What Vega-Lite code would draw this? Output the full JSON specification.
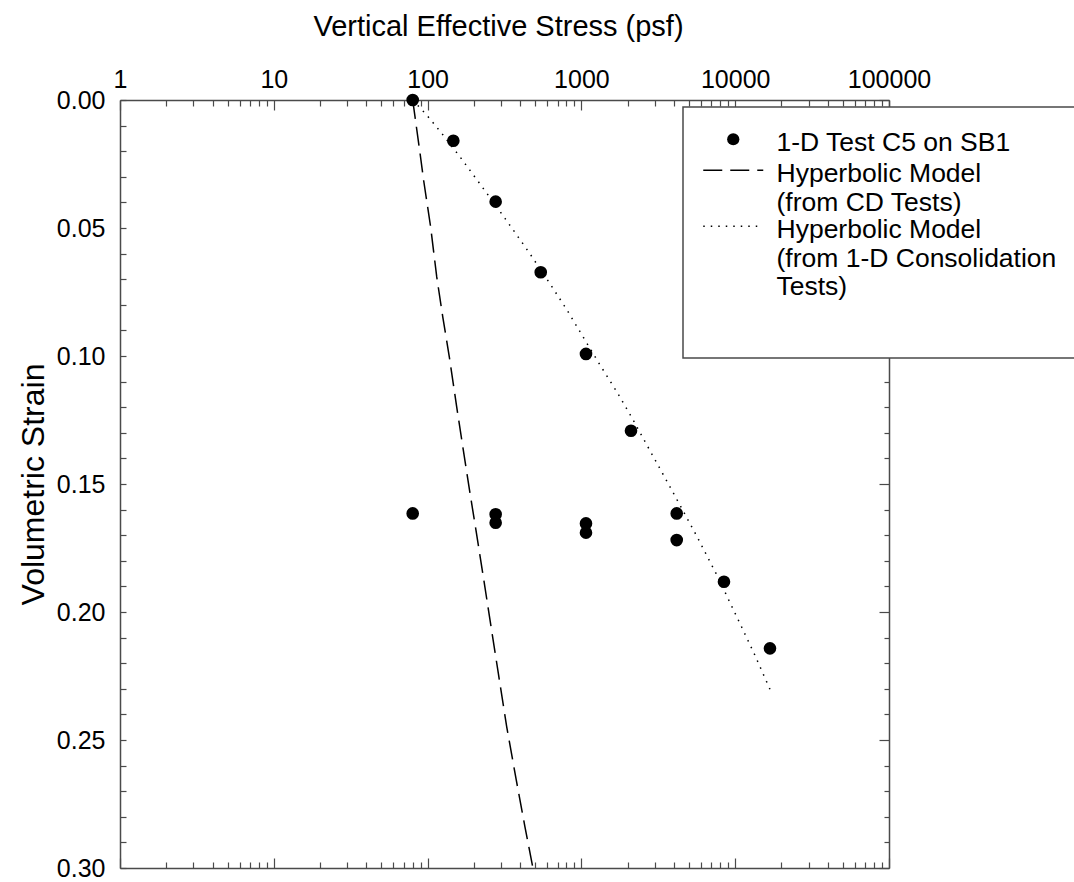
{
  "$schema": "https://vega.github.io/schema/vega-lite/v6.json",
  "width": 769,
  "height": 768,
  "autosize": {"type": "none"},
  "padding": {"left": 120, "top": 100, "right": 185, "bottom": 14},
  "background": "white",
  "config": {
    "view": {"stroke": null},
    "font": "Liberation Sans",
    "axis": {
      "domainColor": "#4a4a4a",
      "domainWidth": 1.5,
      "tickColor": "#4a4a4a",
      "tickWidth": 1.2,
      "grid": false,
      "labelFont": "Liberation Sans",
      "labelFontSize": 25,
      "labelColor": "black",
      "titleFont": "Liberation Sans",
      "titleFontSize": 29,
      "titleFontWeight": "normal",
      "titleColor": "black",
      "labelFlush": false,
      "labelOverlap": false,
      "labelBound": false
    }
  },
  "data": {
    "values": [
      {"stress": 80, "strain": 0.0, "series": "1-D Test C5 on SB1"},
      {"stress": 147, "strain": 0.0159, "series": "1-D Test C5 on SB1"},
      {"stress": 277, "strain": 0.0397, "series": "1-D Test C5 on SB1"},
      {"stress": 544, "strain": 0.0673, "series": "1-D Test C5 on SB1"},
      {"stress": 1071, "strain": 0.0992, "series": "1-D Test C5 on SB1"},
      {"stress": 2101, "strain": 0.1292, "series": "1-D Test C5 on SB1"},
      {"stress": 4166, "strain": 0.1615, "series": "1-D Test C5 on SB1"},
      {"stress": 8453, "strain": 0.1882, "series": "1-D Test C5 on SB1"},
      {"stress": 16830, "strain": 0.2142, "series": "1-D Test C5 on SB1"},
      {"stress": 4166, "strain": 0.1719, "series": "1-D Test C5 on SB1"},
      {"stress": 1071, "strain": 0.1654, "series": "1-D Test C5 on SB1"},
      {"stress": 1071, "strain": 0.1690, "series": "1-D Test C5 on SB1"},
      {"stress": 277, "strain": 0.1618, "series": "1-D Test C5 on SB1"},
      {"stress": 277, "strain": 0.1651, "series": "1-D Test C5 on SB1"},
      {"stress": 80, "strain": 0.1615, "series": "1-D Test C5 on SB1"},

      {"stress": 80, "strain": 0.0, "series": "Hyperbolic Model (from CD Tests)"},
      {"stress": 82.8, "strain": 0.0065, "series": "Hyperbolic Model (from CD Tests)"},
      {"stress": 89.3, "strain": 0.0208, "series": "Hyperbolic Model (from CD Tests)"},
      {"stress": 94.2, "strain": 0.0313, "series": "Hyperbolic Model (from CD Tests)"},
      {"stress": 104.6, "strain": 0.0495, "series": "Hyperbolic Model (from CD Tests)"},
      {"stress": 114.6, "strain": 0.0690, "series": "Hyperbolic Model (from CD Tests)"},
      {"stress": 125.4, "strain": 0.0846, "series": "Hyperbolic Model (from CD Tests)"},
      {"stress": 138.4, "strain": 0.1003, "series": "Hyperbolic Model (from CD Tests)"},
      {"stress": 154.5, "strain": 0.1198, "series": "Hyperbolic Model (from CD Tests)"},
      {"stress": 170.6, "strain": 0.1367, "series": "Hyperbolic Model (from CD Tests)"},
      {"stress": 188.7, "strain": 0.1536, "series": "Hyperbolic Model (from CD Tests)"},
      {"stress": 207.5, "strain": 0.1690, "series": "Hyperbolic Model (from CD Tests)"},
      {"stress": 230.2, "strain": 0.1862, "series": "Hyperbolic Model (from CD Tests)"},
      {"stress": 254.5, "strain": 0.2031, "series": "Hyperbolic Model (from CD Tests)"},
      {"stress": 288.4, "strain": 0.2240, "series": "Hyperbolic Model (from CD Tests)"},
      {"stress": 326.7, "strain": 0.2448, "series": "Hyperbolic Model (from CD Tests)"},
      {"stress": 377.0, "strain": 0.2656, "series": "Hyperbolic Model (from CD Tests)"},
      {"stress": 429.5, "strain": 0.2839, "series": "Hyperbolic Model (from CD Tests)"},
      {"stress": 484, "strain": 0.3000, "series": "Hyperbolic Model (from CD Tests)"},

      {"stress": 80, "strain": 0.0, "series": "Hyperbolic Model (from 1-D Consolidation Tests)"},
      {"stress": 98.7, "strain": 0.0059, "series": "Hyperbolic Model (from 1-D Consolidation Tests)"},
      {"stress": 123.5, "strain": 0.0130, "series": "Hyperbolic Model (from 1-D Consolidation Tests)"},
      {"stress": 162.4, "strain": 0.0222, "series": "Hyperbolic Model (from 1-D Consolidation Tests)"},
      {"stress": 213.7, "strain": 0.0319, "series": "Hyperbolic Model (from 1-D Consolidation Tests)"},
      {"stress": 281.3, "strain": 0.0417, "series": "Hyperbolic Model (from 1-D Consolidation Tests)"},
      {"stress": 360.6, "strain": 0.0508, "series": "Hyperbolic Model (from 1-D Consolidation Tests)"},
      {"stress": 463.4, "strain": 0.0601, "series": "Hyperbolic Model (from 1-D Consolidation Tests)"},
      {"stress": 641, "strain": 0.0728, "series": "Hyperbolic Model (from 1-D Consolidation Tests)"},
      {"stress": 802, "strain": 0.0818, "series": "Hyperbolic Model (from 1-D Consolidation Tests)"},
      {"stress": 1013, "strain": 0.0920, "series": "Hyperbolic Model (from 1-D Consolidation Tests)"},
      {"stress": 1321, "strain": 0.1035, "series": "Hyperbolic Model (from 1-D Consolidation Tests)"},
      {"stress": 1696, "strain": 0.1139, "series": "Hyperbolic Model (from 1-D Consolidation Tests)"},
      {"stress": 2124, "strain": 0.1240, "series": "Hyperbolic Model (from 1-D Consolidation Tests)"},
      {"stress": 2723, "strain": 0.1358, "series": "Hyperbolic Model (from 1-D Consolidation Tests)"},
      {"stress": 3767, "strain": 0.1511, "series": "Hyperbolic Model (from 1-D Consolidation Tests)"},
      {"stress": 5620, "strain": 0.1703, "series": "Hyperbolic Model (from 1-D Consolidation Tests)"},
      {"stress": 7586, "strain": 0.1855, "series": "Hyperbolic Model (from 1-D Consolidation Tests)"},
      {"stress": 10230, "strain": 0.2018, "series": "Hyperbolic Model (from 1-D Consolidation Tests)"},
      {"stress": 13460, "strain": 0.2170, "series": "Hyperbolic Model (from 1-D Consolidation Tests)"},
      {"stress": 16830, "strain": 0.2302, "series": "Hyperbolic Model (from 1-D Consolidation Tests)"}
    ]
  },
  "encoding": {
    "color": {
      "field": "series",
      "type": "nominal",
      "scale": {
        "domain": ["1-D Test C5 on SB1", "Hyperbolic Model (from CD Tests)", "Hyperbolic Model (from 1-D Consolidation Tests)"],
        "range": ["black", "black", "black"]
      },
      "legend": {
        "title": " ",
        "titleOrient": "bottom",
        "titleFontSize": 27,
        "titlePadding": 12,
        "orient": "none",
        "legendX": 563,
        "legendY": 7,
        "padding": 19,
        "fillColor": "white",
        "strokeColor": "#4a4a4a",
        "labelFont": "Liberation Sans",
        "labelFontSize": 26.5,
        "labelColor": "black",
        "labelLimit": 0,
        "labelBaseline": "top",
        "symbolSize": 3600,
        "symbolOffset": 18,
        "labelOffset": 30,
        "rowPadding": 0,
        "labelExpr": "datum.value == 'Hyperbolic Model (from CD Tests)' ? ['Hyperbolic Model', '(from CD Tests)'] : datum.value == 'Hyperbolic Model (from 1-D Consolidation Tests)' ? ['Hyperbolic Model', '(from 1-D Consolidation  ', 'Tests)'] : datum.label",
        "encode": {
          "symbols": {
            "update": {
              "shape": {"signal": "datum.value == '1-D Test C5 on SB1' ? 'circle' : 'stroke'"},
              "size": {"signal": "datum.value == '1-D Test C5 on SB1' ? 150 : 3600"},
              "fill": {"signal": "datum.value == '1-D Test C5 on SB1' ? 'black' : 'transparent'"},
              "stroke": {"value": "black"},
              "strokeWidth": {"signal": "datum.value == '1-D Test C5 on SB1' ? 0 : 1.5"},
              "strokeDash": {"signal": "datum.value == '1-D Test C5 on SB1' ? [1, 0] : (datum.value == 'Hyperbolic Model (from CD Tests)' ? [19, 8] : [1.5, 6])"},
              "y": {"signal": "datum.size * 0.5 + (datum.value == 'Hyperbolic Model (from 1-D Consolidation Tests)' ? -5 : 0)"},
              "opacity": {"value": 1}
            }
          },
          "labels": {
            "update": {
              "dy": {"signal": "datum.value == 'Hyperbolic Model (from 1-D Consolidation Tests)' ? -14 : -9"},
              "lineHeight": {"value": 28.5}
            }
          },
          "legend": {
            "update": {
              "strokeWidth": {"value": 1.5}
            }
          }
        }
      }
    }
  },
  "layer": [
    {
      "transform": [{"filter": "datum.series == '1-D Test C5 on SB1'"}],
      "mark": {"type": "circle", "size": 160, "opacity": 1},
      "encoding": {
        "x": {
          "field": "stress",
          "type": "quantitative",
          "scale": {"type": "log", "domain": [1, 100000], "nice": false},
          "axis": {
            "orient": "top",
            "title": "Vertical Effective Stress (psf)",
            "titleX": 378,
            "values": [1,2,3,4,5,6,7,8,9,10,20,30,40,50,60,70,80,90,100,200,300,400,500,600,700,800,900,1000,2000,3000,4000,5000,6000,7000,8000,9000,10000,20000,30000,40000,50000,60000,70000,80000,90000,100000],
            "labelExpr": "indexof([1,10,100,1000,10000,100000], datum.value) >= 0 ? format(datum.value, 'd') : ''",
            "tickSize": {"condition": {"test": "indexof([1,10,100,1000,10000,100000], datum.value) >= 0", "value": -10}, "value": -6},
            "labelPadding": 18,
            "titlePadding": 22
          }
        },
        "y": {
          "field": "strain",
          "type": "quantitative",
          "scale": {"domain": [0, 0.3], "reverse": true, "nice": false, "zero": false},
          "axis": {
            "orient": "left",
            "title": "Volumetric Strain",
            "titleFontSize": 32,
            "values": [0,0.01,0.02,0.03,0.04,0.05,0.06,0.07,0.08,0.09,0.1,0.11,0.12,0.13,0.14,0.15,0.16,0.17,0.18,0.19,0.2,0.21,0.22,0.23,0.24,0.25,0.26,0.27,0.28,0.29,0.3],
            "labelExpr": "abs(datum.value * 20 - round(datum.value * 20)) < 0.001 ? format(datum.value, '.2f') : ''",
            "tickSize": -6,
            "labelPadding": 21,
            "titlePadding": 6
          }
        }
      }
    },
    {
      "transform": [{"filter": "datum.series == 'Hyperbolic Model (from CD Tests)'"}],
      "mark": {"type": "line", "strokeDash": [19, 8], "strokeWidth": 1.5, "clip": true},
      "encoding": {
        "x": {
          "field": "stress",
          "type": "quantitative",
          "axis": {
            "orient": "bottom",
            "title": null,
            "labels": false,
            "values": [1,2,3,4,5,6,7,8,9,10,20,30,40,50,60,70,80,90,100,200,300,400,500,600,700,800,900,1000,2000,3000,4000,5000,6000,7000,8000,9000,10000,20000,30000,40000,50000,60000,70000,80000,90000,100000],
            "tickSize": {"condition": {"test": "indexof([1,10,100,1000,10000,100000], datum.value) >= 0", "value": -10}, "value": -6}
          }
        },
        "y": {
          "field": "strain",
          "type": "quantitative",
          "axis": {
            "orient": "right",
            "title": null,
            "labels": false,
            "values": [0,0.01,0.02,0.03,0.04,0.05,0.06,0.07,0.08,0.09,0.1,0.11,0.12,0.13,0.14,0.15,0.16,0.17,0.18,0.19,0.2,0.21,0.22,0.23,0.24,0.25,0.26,0.27,0.28,0.29,0.3],
            "tickSize": {"condition": {"test": "abs(datum.value * 20 - round(datum.value * 20)) < 0.001", "value": -10}, "value": -5}
          }
        }
      }
    },
    {
      "transform": [{"filter": "datum.series == 'Hyperbolic Model (from 1-D Consolidation Tests)'"}],
      "mark": {"type": "line", "strokeDash": [1.5, 6], "strokeWidth": 1.5, "clip": true},
      "encoding": {
        "x": {"field": "stress", "type": "quantitative", "axis": null},
        "y": {"field": "strain", "type": "quantitative", "axis": null}
      }
    }
  ],
  "resolve": {"axis": {"x": "independent", "y": "independent"}}
}
